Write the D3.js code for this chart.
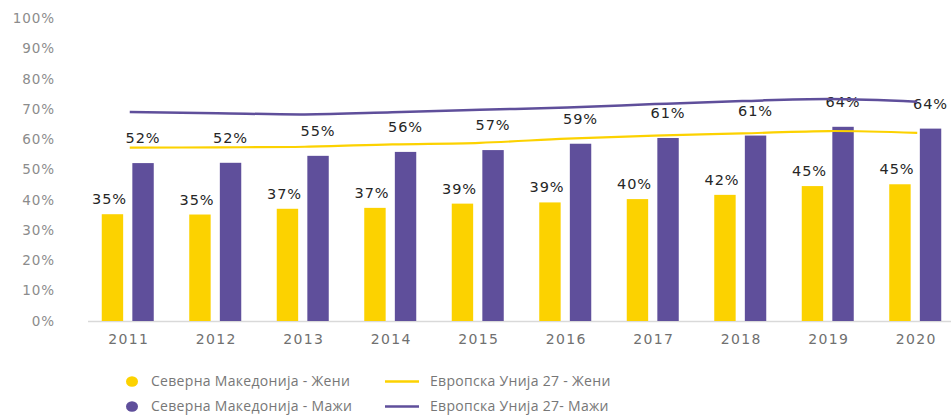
<!DOCTYPE html>
<html>
<head>
<meta charset="utf-8">
<script src="https://cdn.jsdelivr.net/npm/d3@7"></script>
<style>
  html, body { margin: 0; padding: 0; background: #fff; }
  svg { display: block; }
</style>
</head>
<body>
<svg id="chart" width="951" height="415"></svg>
<script>
// Северна Македонија vs ЕУ27 — стапка на вработеност по пол, 2011–2020
const years = ['2011', '2012', '2013', '2014', '2015', '2016', '2017', '2018', '2019', '2020'];
const mkZeni = [35.3, 35.2, 37.1, 37.4, 38.8, 39.2, 40.3, 41.7, 44.6, 45.2];
const mkMazi = [52.2, 52.3, 54.6, 55.9, 56.5, 58.6, 60.5, 61.3, 64.2, 63.6];
const euZeni = [57.3, 57.4, 57.6, 58.4, 58.9, 60.3, 61.3, 62.0, 62.8, 62.2];
const euMazi = [69.1, 68.7, 68.3, 69.0, 69.8, 70.6, 71.7, 72.7, 73.4, 72.5];
const yTicks = [0, 10, 20, 30, 40, 50, 60, 70, 80, 90, 100];
const legendItems = [
  { label: 'Северна Македонија - Жени', kind: 'dot', color: '#FCD200' },
  { label: 'Европска Унија 27 - Жени', kind: 'line', color: '#FCD200' },
  { label: 'Северна Македонија - Мажи', kind: 'dot', color: '#5F4F9B' },
  { label: 'Европска Унија 27- Мажи', kind: 'line', color: '#5F4F9B' },
];

const YELLOW = '#FCD200', PURPLE = '#5F4F9B';
const svg = d3.select('#chart');

const x = d3.scaleBand().domain(years).range([85, 960]);
const xs = d3.scaleBand().domain(['f', 'm']).range([-27, 25]).paddingInner(0.3);
const y = d3.scaleLinear().domain([0, 100]).range([321, 18.5]);
const cx = yr => x(yr) + x.bandwidth() / 2;

// y ticks
svg.append('g').selectAll('text').data(yTicks).join('text')
  .attr('x', 55).attr('y', d => y(d)).attr('dy', '0.35em')
  .attr('text-anchor', 'end')
  .attr('font-family', 'DejaVu Sans').style('font-size', '13.5px')
  .attr('letter-spacing', '0.9px')
  .attr('fill', '#8c8c8c')
  .text(d => d + '%');

// x axis baseline
svg.append('line')
  .attr('x1', 88).attr('x2', 951).attr('y1', y(0) + 0.5).attr('y2', y(0) + 0.5)
  .attr('stroke', '#d9d9d9').attr('stroke-width', 1.5);

svg.append('g').selectAll('text').data(years).join('text')
  .attr('x', d => cx(d)).attr('y', 344)
  .attr('text-anchor', 'middle')
  .attr('font-family', 'DejaVu Sans').style('font-size', '14px')
  .attr('letter-spacing', '1.3px')
  .attr('fill', '#707070')
  .text(d => d);

// bars
const rows = years.map((yr, i) => ({ yr, f: mkZeni[i], m: mkMazi[i] }));
const grp = svg.append('g').selectAll('g').data(rows).join('g')
  .attr('transform', d => `translate(${cx(d.yr)},0)`);

grp.append('rect')
  .attr('x', xs('f')).attr('width', xs.bandwidth())
  .attr('y', d => y(d.f)).attr('height', d => y(0) - y(d.f))
  .attr('fill', YELLOW);
grp.append('rect')
  .attr('x', xs('m')).attr('width', xs.bandwidth())
  .attr('y', d => y(d.m)).attr('height', d => y(0) - y(d.m))
  .attr('fill', PURPLE);

// EU lines
const line = d3.line().x((d, i) => cx(years[i]) + 1).y(d => y(d)).curve(d3.curveCatmullRom.alpha(0.5));
svg.append('path').datum(euMazi).attr('d', line)
  .attr('fill', 'none').attr('stroke', PURPLE).attr('stroke-width', 2.5);
svg.append('path').datum(euZeni).attr('d', line)
  .attr('fill', 'none').attr('stroke', YELLOW).attr('stroke-width', 2.2);

// value labels
const lblStyle = sel => sel
  .attr('text-anchor', 'middle')
  .attr('font-family', 'DejaVu Sans').style('font-size', '14.5px')
  .attr('letter-spacing', '0.9px')
  .attr('fill', '#262626');
grp.append('text').call(lblStyle)
  .attr('x', xs('f') + xs.bandwidth() / 2 - 3).attr('y', d => y(d.f) - 10)
  .text(d => Math.round(d.f) + '%');
grp.append('text').call(lblStyle)
  .attr('x', xs('m') + xs.bandwidth() / 2).attr('y', d => y(d.m) - 20)
  .text(d => Math.round(d.m) + '%');

// legend
const lg = svg.append('g').selectAll('g').data(legendItems).join('g')
  .attr('transform', (d, i) => `translate(${i % 2 === 0 ? 132 : 385},${i < 2 ? 381.5 : 406.5})`);
lg.filter(d => d.kind === 'dot').append('ellipse')
  .attr('rx', 6).attr('ry', 5.3).attr('fill', d => d.color);
lg.filter(d => d.kind === 'line').append('line')
  .attr('x1', 0).attr('x2', 34).attr('stroke', d => d.color).attr('stroke-width', 2.5);
lg.append('text')
  .attr('x', d => d.kind === 'dot' ? 19 : 45).attr('dy', '0.35em')
  .attr('font-family', 'Open Sans').style('font-size', '14px')
  .attr('letter-spacing', '0.3px')
  .attr('fill', '#777777')
  .text(d => d.label);
</script>
</body>
</html>
